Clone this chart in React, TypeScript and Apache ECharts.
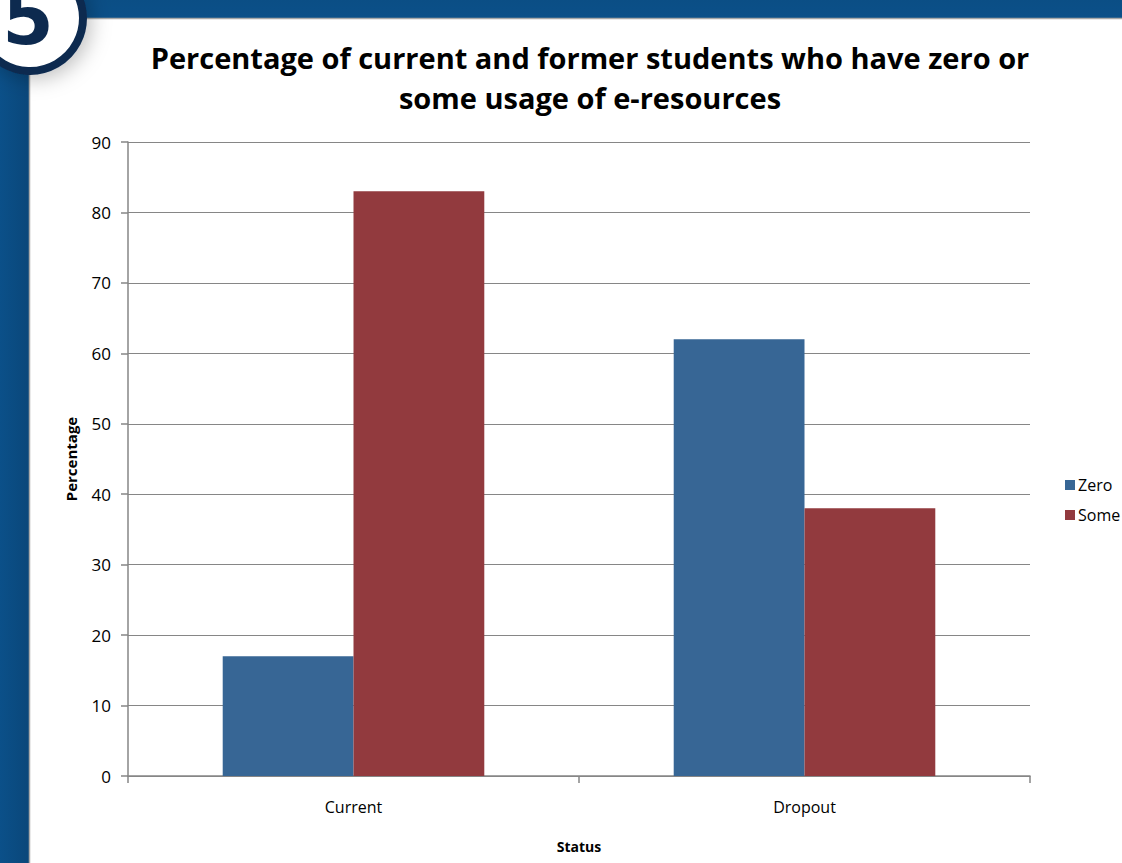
import React, { useEffect, useRef } from "react";
import * as echarts from "echarts";

const categories = ["Current", "Dropout"];
const zeroValues = [17, 62];
const someValues = [83, 38];
const seriesNames = ["Zero", "Some"];
const titleLines = [
  "Percentage of current and former students who have zero or",
  "some usage of e-resources",
];

const FONT = "'Open Sans', 'Noto Sans', sans-serif";

export default function App() {
  const ref = useRef<HTMLDivElement>(null);
  useEffect(() => {
    document.body.style.margin = "0";
    const chart = echarts.init(ref.current!, undefined, { renderer: "svg" });
    chart.setOption({
      animation: false,
      backgroundColor: "#ffffff",
      textStyle: { fontFamily: FONT },
      title: {
        text: titleLines.join("\n"),
        left: 585,
        textAlign: "center",
        top: 32,
        textStyle: {
          fontFamily: FONT,
          fontSize: 29,
          fontWeight: "bold",
          color: "#000",
          lineHeight: 40,
        },
      },
      legend: {
        orient: "vertical",
        left: 1060,
        top: 472,
        itemWidth: 10,
        itemHeight: 10,
        itemGap: 14,
        icon: "rect",
        textStyle: { fontFamily: FONT, fontSize: 16, color: "#000", padding: [0, 0, 0, -2] },
        data: seriesNames,
      },
      grid: { left: 128, right: 92, top: 142, bottom: 87, containLabel: false },
      xAxis: {
        type: "category",
        data: categories,
        name: "Status",
        nameLocation: "middle",
        nameGap: 63,
        nameTextStyle: { fontFamily: FONT, fontSize: 14, fontWeight: "bold", color: "#000" },
        axisLine: { lineStyle: { color: "#868686", width: 1.5 } },
        axisTick: { show: true, length: 7, lineStyle: { color: "#868686", width: 1.5 } },
        axisLabel: { fontFamily: FONT, fontSize: 16, color: "#000", margin: 23 },
      },
      yAxis: {
        type: "value",
        min: 0,
        max: 90,
        interval: 10,
        name: "Percentage",
        nameLocation: "middle",
        nameGap: 50,
        nameTextStyle: { fontFamily: FONT, fontSize: 15, fontWeight: "bold", color: "#000" },
        axisLine: { show: true, lineStyle: { color: "#868686", width: 1.5 } },
        axisTick: { show: true, length: 7, lineStyle: { color: "#868686", width: 1.5 } },
        axisLabel: { fontFamily: FONT, fontSize: 17, color: "#000", margin: 17 },
        splitLine: { lineStyle: { color: "#868686", width: 1 } },
      },
      series: [
        {
          name: seriesNames[0],
          type: "bar",
          data: zeroValues,
          itemStyle: { color: "#376695" },
          barGap: "0%",
          barCategoryGap: "42%",
        },
        {
          name: seriesNames[1],
          type: "bar",
          data: someValues,
          itemStyle: { color: "#923a3e" },
          barGap: "0%",
          barCategoryGap: "42%",
        },
      ],
      graphic: [
        {
          type: "rect",
          shape: { x: 0, y: 0, width: 1122, height: 18 },
          style: {
            fill: new echarts.graphic.LinearGradient(0, 0, 0, 1, [
              { offset: 0, color: "#0b4e85" },
              { offset: 1, color: "#0b5089" },
            ]),
          },
          z: 100,
        },
        {
          type: "rect",
          shape: { x: 0, y: 0, width: 29, height: 863 },
          style: {
            fill: new echarts.graphic.LinearGradient(0, 0, 1, 0, [
              { offset: 0, color: "#0b5089" },
              { offset: 1, color: "#0a477a" },
            ]),
          },
          z: 100,
        },
        {
          type: "line",
          shape: { x1: 29, y1: 18.5, x2: 1122, y2: 18.5 },
          style: { stroke: "#a8a8a8", lineWidth: 1.5 },
          z: 101,
        },
        {
          type: "line",
          shape: { x1: 29.5, y1: 18, x2: 29.5, y2: 863 },
          style: { stroke: "#a8a8a8", lineWidth: 1.5 },
          z: 101,
        },
        {
          type: "circle",
          shape: { cx: 30, cy: 18, r: 53 },
          style: {
            fill: "#ffffff",
            stroke: "#0d2a4f",
            lineWidth: 8,
            shadowBlur: 20,
            shadowColor: "rgba(0,0,0,0.25)",
            shadowOffsetX: 4,
            shadowOffsetY: 4,
          },
          z: 102,
        },
        {
          type: "text",
          x: 28,
          y: 55,
          style: {
            text: "5",
            fill: "#0d2a4f",
            font: "bold 74px 'DejaVu Sans', sans-serif",
            align: "center",
            verticalAlign: "bottom",
          },
          z: 103,
        },
      ],
    });
    return () => chart.dispose();
  }, []);
  return (
    <div
      ref={ref}
      style={{ position: "absolute", left: 0, top: 0, width: 1122, height: 863 }}
    />
  );
}
